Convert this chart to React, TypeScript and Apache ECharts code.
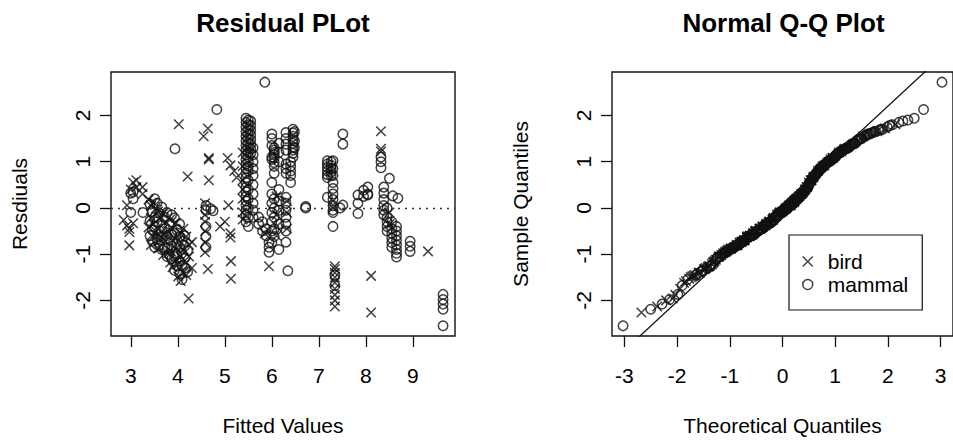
import React, { useEffect, useRef } from "react";
import * as echarts from "echarts";

type Column = [number, number[]];

// Residual plot data: [fitted value, residuals at that fitted value]
const birdColumns: Column[] = [
  [2.85, [-0.26]], [2.92, [0.06, -0.38]], [2.97, [-0.45, -0.52, -0.81]], [3.0, [0.4]],
  [3.05, [0.55, -0.33]], [3.12, [0.6, 0.45]], [3.25, [0.45, 0.3]],
  [3.38, [0.18, -0.42]], [3.43, [0.05, -0.22, -0.8]], [3.48, [0.12, -0.35, -0.62]],
  [3.53, [-0.02, -0.5]], [3.58, [-0.08, -0.6, -0.88]], [3.63, [-0.22, -0.7]],
  [3.69, [-0.12, -0.58, -1.02]], [3.74, [-0.3, -0.72]], [3.79, [-0.5, -0.98]],
  [3.84, [-0.25, -0.92, -1.18]], [3.89, [-0.45, -0.7, -1.28]], [3.96, [-0.32, -0.88, -1.12]],
  [4.01, [-0.7, -1.22, -1.48]], [4.06, [-0.55, -1.05, -1.58]], [4.12, [-0.45, -0.9, -1.4]],
  [4.18, [-0.62, -1.18, -1.45]], [4.24, [-0.8, -1.05]], [4.3, [-0.74, -1.3]],
  [4.02, [1.81]], [4.21, [0.68]], [4.23, [-1.96]],
  [4.55, [1.55]], [4.64, [1.72, -1.32]], [4.66, [1.08, 1.05, 0.6]],
  [4.58, [0.1, -0.15, -0.3, -0.5, -0.75, -0.96]],
  [4.9, [-0.4]], [5.0, [-0.3]], [5.06, [1.08]], [5.08, [0.06]], [5.12, [0.92, -0.55, -0.64]],
  [5.13, [-1.15, -1.53]], [5.2, [0.8]], [5.25, [0.66]],
  [5.38, [1.2, 0.9, 0.6, 0.4, 0.2, -0.1, -0.25]],
  [5.85, [-0.55]], [5.94, [-1.26]],
  [6.1, [0.25, -0.15, -0.4, -0.6]],
  [6.32, [0.15, -0.1, -0.45]],
  [7.3, [0.15, 0.0]],
  [7.34, [-1.26, -1.32, -1.4, -1.5, -1.62, -1.75, -1.88, -2.0, -2.13]],
  [8.11, [-1.47, -2.26]],
  [8.32, [1.66, 1.28, 1.22]],
  [8.5, [-0.1, -0.35]],
  [9.32, [-0.94]],
];

const mammalColumns: Column[] = [
  [3.0, [-0.1, 0.32]], [3.05, [0.2, 0.35]], [3.26, [-0.1]],
  [3.41, [0.08, -0.28, -0.6]], [3.46, [-0.08, -0.48, -0.72]], [3.51, [0.2, -0.2, -0.4, -0.85]],
  [3.56, [0.1, -0.3, -0.68]], [3.61, [-0.12, -0.5, -0.8]], [3.66, [0.02, -0.38, -0.62, -0.9]],
  [3.72, [-0.2, -0.45, -0.85]], [3.77, [-0.1, -0.6, -0.88, -1.05]], [3.82, [-0.35, -0.68, -1.0]],
  [3.87, [-0.15, -0.58, -0.82, -1.1]], [3.93, [-0.22, -0.55, -1.05, -1.35]],
  [3.98, [-0.48, -0.78, -1.0, -1.25]], [4.04, [-0.35, -0.62, -0.85, -1.15, -1.42]],
  [4.09, [-0.72, -0.98, -1.25, -1.55]], [4.15, [-0.6, -0.82, -1.08, -1.3]], [4.21, [-0.92, -1.38]],
  [3.94, [1.28]], [4.83, [2.13]], [5.85, [2.72]],
  [4.6, [0.05, -0.05, -0.4, -0.62, -0.85]], [4.7, [-0.02]], [4.75, [-0.06]],
  [5.45, [1.94, 1.85, 1.75, 1.65, 1.55, 1.45, 1.35, 1.25, 1.15, 1.05, 0.95, 0.85, 0.75, 0.65, 0.55, 0.45, 0.35, 0.25, 0.15, 0.05, -0.05, -0.15, -0.3]],
  [5.5, [1.9, 1.8, 1.7, 1.6, 1.5, 1.4, 1.3, 1.2, 1.1, 1.0, 0.9, 0.8, 0.6, 0.4, 0.2, 0.0, -0.2, -0.4]],
  [5.55, [1.88, 1.78, 1.68, 1.58, 1.48, 1.38, 1.28, 1.18]],
  [5.6, [1.3, 1.15, 1.0, 0.85, 0.7, 0.5, 0.3, 0.1, -0.05, -0.2]],
  [5.72, [-0.2, -0.35]], [5.8, [-0.3, -0.5]], [5.88, [-0.45, -0.6]], [5.94, [-0.75, -0.85, -0.96]],
  [6.0, [1.6, 1.5, 1.35, 1.1, 1.05, 0.55, 0.3, 0.1, -0.1, -0.3, -0.5, -0.75]],
  [6.05, [1.3, 1.25, 1.2, 1.15, 1.08, 0.98, 0.9, 0.75, 0.2, 0.0, -0.2, -0.45, -0.62]],
  [6.15, [1.4, 1.2, 1.0, 0.4, 0.15, -0.05, -0.35, -0.9]],
  [6.3, [1.63, 1.5, 1.38, 1.25, 0.95, 0.85, 0.75, 0.23, 0.1, -0.05, -0.2, -0.35, -0.5, -0.74]],
  [6.34, [-1.36]],
  [6.4, [1.0, 0.9, 0.8, 0.7, 0.55]],
  [6.45, [1.7, 1.62, 1.55, 1.48, 1.4, 1.32, 1.25, 1.18, 1.1]],
  [6.48, [1.65, 1.45, 1.3]],
  [6.72, [0.0, 0.03]],
  [7.18, [1.02, 0.95, 0.88, 0.8, 0.72, 0.66, 0.23]],
  [7.26, [1.0, 0.92, 0.85, 0.78, 0.7]],
  [7.3, [1.02, 0.85, 0.7, 0.55, 0.42, 0.3, 0.18, 0.05, -0.05, -0.1, -0.4]],
  [7.34, [-1.45, -1.68]],
  [7.45, [0.0]], [7.51, [1.6, 1.38, 0.06]],
  [7.83, [0.28, 0.1, -0.12]], [7.95, [0.38, 0.25]], [8.04, [0.45, 0.3, 0.28]],
  [8.32, [1.1, 1.0, 0.87]], [8.5, [0.64]],
  [8.38, [0.45, 0.32, 0.18, 0.05, -0.05, -0.15]],
  [8.45, [0.0, -0.2, -0.3, -0.4, -0.5]],
  [8.55, [-0.3, -0.45, -0.55, -0.65, -0.75, -0.85]],
  [8.65, [-0.4, -0.5, -0.6, -0.7, -0.8, -0.9, -0.98, -1.06]],
  [8.68, [0.21]], [8.57, [0.26]],
  [8.94, [-0.72, -0.83, -0.94]],
  [9.64, [-1.87, -1.98, -2.08, -2.19, -2.55]],
];

const fittedTicks = [3, 4, 5, 6, 7, 8, 9];
const residualTicks = [-2, -1, 0, 1, 2];
const theoreticalTicks = [-3, -2, -1, 0, 1, 2, 3];
const groupNames = ["bird", "mammal"];
const panelTitles = ["Residual PLot", "Normal Q-Q Plot"];
const xAxisNames = ["Fitted Values", "Theoretical Quantiles"];
const yAxisNames = ["Resdiuals", "Sample Quantiles"];

const FONT = '"Liberation Sans", Arial, Helvetica, sans-serif';
const CROSS = "path://M0,0L10,10M10,0L0,10";
const INK = "#111";

function expand(cols: Column[]): number[][] {
  const out: number[][] = [];
  cols.forEach(([x, ys]) => ys.forEach((y) => out.push([x, y])));
  return out;
}

// Inverse standard normal CDF (Acklam)
function qnorm(p: number): number {
  const a = [-39.69683028665376, 220.9460984245205, -275.9285104469687, 138.357751867269, -30.66479806614716, 2.506628277459239];
  const b = [-54.47609879822406, 161.5858368580409, -155.6989798598866, 66.80131188771972, -13.28068155288572];
  const c = [-0.007784894002430293, -0.3223964580411365, -2.400758277161838, -2.549732539343734, 4.374664141464968, 2.938163982698783];
  const d = [0.007784695709041462, 0.3224671290700398, 2.445134137142996, 3.754408661907416];
  const plow = 0.02425;
  if (p < plow) {
    const q = Math.sqrt(-2 * Math.log(p));
    return (((((c[0] * q + c[1]) * q + c[2]) * q + c[3]) * q + c[4]) * q + c[5]) / ((((d[0] * q + d[1]) * q + d[2]) * q + d[3]) * q + 1);
  }
  if (p > 1 - plow) {
    const q = Math.sqrt(-2 * Math.log(1 - p));
    return -(((((c[0] * q + c[1]) * q + c[2]) * q + c[3]) * q + c[4]) * q + c[5]) / ((((d[0] * q + d[1]) * q + d[2]) * q + d[3]) * q + 1);
  }
  const q = p - 0.5;
  const r = q * q;
  return ((((((a[0] * r + a[1]) * r + a[2]) * r + a[3]) * r + a[4]) * r + a[5]) * q) / (((((b[0] * r + b[1]) * r + b[2]) * r + b[3]) * r + b[4]) * r + 1);
}

function quantile7(sorted: number[], p: number): number {
  const h = (sorted.length - 1) * p;
  const lo = Math.floor(h);
  const hi = Math.min(lo + 1, sorted.length - 1);
  return sorted[lo] + (h - lo) * (sorted[hi] - sorted[lo]);
}

export default function App() {
  const ref = useRef<HTMLDivElement>(null);

  useEffect(() => {
    if (!ref.current) return;
    const chart = echarts.init(ref.current, undefined, { renderer: "svg" });

    const birdPts = expand(birdColumns);
    const mammalPts = expand(mammalColumns);

    // Normal Q-Q from all residuals
    const all = [
      ...birdPts.map((p) => ({ r: p[1], g: 0 })),
      ...mammalPts.map((p) => ({ r: p[1], g: 1 })),
    ].sort((u, v) => u.r - v.r);
    const n = all.length;
    const qqBird: number[][] = [];
    const qqMammal: number[][] = [];
    all.forEach((pt, i) => {
      const t = qnorm((i + 1 - 0.5) / n);
      (pt.g === 0 ? qqBird : qqMammal).push([t, pt.r]);
    });
    const sortedR = all.map((p) => p.r);
    const y1 = quantile7(sortedR, 0.25);
    const y2 = quantile7(sortedR, 0.75);
    const x1 = qnorm(0.25);
    const x2 = qnorm(0.75);
    const slope = (y2 - y1) / (x2 - x1);
    const intercept = y1 - slope * x1;

    const qMin = -3.236;
    const qMax = 3.236;
    const yMin = -2.77;
    const yMax = 2.94;

    const crossStyle = { color: "transparent", borderColor: INK, borderWidth: 1.5 };
    const circleStyle = { color: "transparent", borderColor: INK, borderWidth: 1.5 };

    const textBase = { fontFamily: FONT, fontSize: 21, color: "#000" };

    const makeX = (gridIndex: number, min: number, max: number, ticks: number[], name: string) => ({
      type: "value",
      gridIndex,
      min,
      max,
      name,
      nameLocation: "middle",
      nameGap: 79,
      nameTextStyle: textBase,
      axisLine: { show: false, onZero: false },
      splitLine: { show: false },
      axisTick: { show: true, inside: false, length: 11, customValues: ticks, lineStyle: { color: INK, width: 1.3 } },
      axisLabel: { ...textBase, margin: 29, customValues: ticks },
    });

    const makeY = (gridIndex: number, name: string) => ({
      type: "value",
      gridIndex,
      min: yMin,
      max: yMax,
      name,
      nameLocation: "middle",
      nameGap: 81,
      nameTextStyle: textBase,
      axisLine: { show: false, onZero: false },
      splitLine: { show: false },
      axisTick: { show: true, inside: false, length: 11, customValues: residualTicks, lineStyle: { color: INK, width: 1.3 } },
      axisLabel: { ...textBase, rotate: 90, margin: 18, customValues: residualTicks },
    });

    chart.setOption({
      animation: false,
      backgroundColor: "#fff",
      textStyle: { fontFamily: FONT },
      grid: [
        { left: 111, top: 72, width: 344, height: 268.5, show: true, borderColor: INK, borderWidth: 1.4, backgroundColor: "transparent", containLabel: false },
        { left: 612, top: 72, width: 343, height: 268.5, show: true, borderColor: INK, borderWidth: 1.4, backgroundColor: "transparent", containLabel: false },
      ],
      xAxis: [
        makeX(0, 2.58, 9.894, fittedTicks, xAxisNames[0]),
        makeX(1, qMin, qMax, theoreticalTicks, xAxisNames[1]),
      ],
      yAxis: [makeY(0, yAxisNames[0]), makeY(1, yAxisNames[1])],
      legend: {
        orient: "vertical",
        left: 789,
        top: 235,
        padding: [16, 14, 15, 13],
        itemWidth: 30,
        itemHeight: 10,
        itemGap: 2,
        selectedMode: false,
        borderColor: INK,
        borderWidth: 1.2,
        borderRadius: 0,
        textStyle: textBase,
        data: [
          { name: groupNames[0], icon: CROSS, itemStyle: crossStyle },
          { name: groupNames[1], icon: "circle", itemStyle: circleStyle },
        ],
      },
      graphic: [
        { type: "text", x: 283, y: 23, style: { text: panelTitles[0], fill: "#000", font: `bold 26px ${FONT}`, textAlign: "center", textVerticalAlign: "middle", align: "center", verticalAlign: "middle" } },
        { type: "text", x: 783.5, y: 23, style: { text: panelTitles[1], fill: "#000", font: `bold 26px ${FONT}`, textAlign: "center", textVerticalAlign: "middle", align: "center", verticalAlign: "middle" } },
      ],
      series: [
        {
          name: groupNames[0],
          type: "scatter",
          xAxisIndex: 0,
          yAxisIndex: 0,
          symbol: CROSS,
          symbolSize: 9.5,
          itemStyle: crossStyle,
          data: birdPts,
        },
        {
          name: groupNames[1],
          type: "scatter",
          xAxisIndex: 0,
          yAxisIndex: 0,
          symbol: "circle",
          symbolSize: 9.5,
          itemStyle: circleStyle,
          data: mammalPts,
          markLine: {
            silent: true,
            symbol: "none",
            label: { show: false },
            lineStyle: { type: [2, 5], color: "#333", width: 1.3 },
            data: [{ yAxis: 0 }],
          },
        },
        {
          name: groupNames[0],
          type: "scatter",
          xAxisIndex: 1,
          yAxisIndex: 1,
          symbol: CROSS,
          symbolSize: 9.5,
          itemStyle: crossStyle,
          data: qqBird,
        },
        {
          name: groupNames[1],
          type: "scatter",
          xAxisIndex: 1,
          yAxisIndex: 1,
          symbol: "circle",
          symbolSize: 9.5,
          itemStyle: circleStyle,
          data: qqMammal,
        },
        {
          type: "line",
          xAxisIndex: 1,
          yAxisIndex: 1,
          showSymbol: false,
          clip: true,
          lineStyle: { color: INK, width: 1.3 },
          data: [
            [qMin, intercept + slope * qMin],
            [qMax, intercept + slope * qMax],
          ],
        },
      ],
    });

    return () => chart.dispose();
  }, []);

  return <div ref={ref} style={{ position: "fixed", left: 0, top: 0, width: 953, height: 441 }} />;
}
